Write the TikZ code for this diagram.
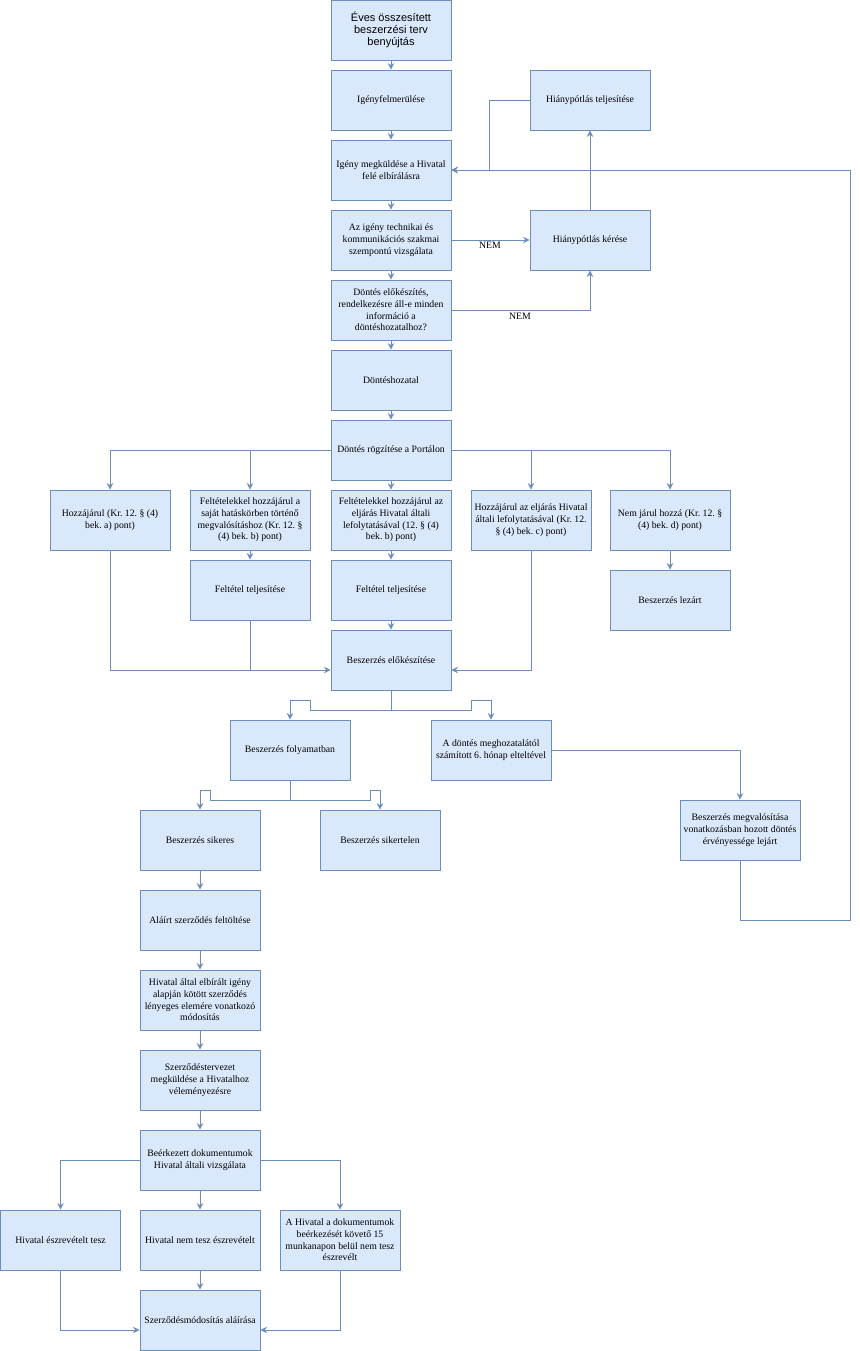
\documentclass[tikz,border=0pt]{standalone}
\usepackage{fontspec}
\setmainfont{Liberation Serif}
\newfontfamily\headfont{Liberation Sans}
\usetikzlibrary{arrows.meta}
\definecolor{boxline}{HTML}{6C8EBF}
\definecolor{boxfill}{HTML}{DAE8FC}
\frenchspacing

\begin{document}
\begin{tikzpicture}[x=1pt,y=-1pt,
  box/.style={draw=boxline,fill=boxfill,line width=.8pt,minimum width=120pt,
    minimum height=60pt,inner sep=0pt,align=center,
    font=\fontsize{9.75}{11.7}\selectfont},
  link/.style={draw=boxline,line width=.8pt,-{Stealth[length=6.5pt,width=6.5pt]}},
  joint/.style={draw=boxline,line width=.8pt},
  lbl/.style={font=\fontsize{9.75}{12}\selectfont,inner sep=0pt}]
  \useasboundingbox (0,0) rectangle (859,1351);

  \node (ev) [box,font=\headfont\fontsize{11}{11.7}\selectfont] at (391,30) {Éves összesített\\beszerzési terv\\benyújtás};
  \node (igf) [box] at (391,100) {Igényfelmerülése};
  \node (megk) [box] at (391,170) {Igény megküldése a Hivatal\\felé elbírálásra};
  \node (vizsg) [box] at (391,240) {Az igény technikai és\\kommunikációs szakmai\\szempontú vizsgálata};
  \node (elok) [box] at (391,310) {Döntés előkészítés,\\rendelkezésre áll-e minden\\információ a\\döntéshozatalhoz?};
  \node (dh) [box] at (391,380) {Döntéshozatal};
  \node (rogz) [box] at (391,450) {Döntés rögzítése a Portálon};
  \node (htel) [box] at (590,100) {Hiánypótlás teljesítése};
  \node (hkr) [box] at (590,240) {Hiánypótlás kérése};

  \node (hj) [box] at (110,520) {Hozzájárul (Kr. 12. § (4)\\bek. a) pont)};
  \node (fsaj) [box] at (250,520) {Feltételekkel hozzájárul a\\saját hatáskörben történő\\megvalósításhoz (Kr. 12. §\\(4) bek. b) pont)};
  \node (fhiv) [box] at (391,520) {Feltételekkel hozzájárul az\\eljárás Hivatal általi\\lefolytatásával (12. § (4)\\bek. b) pont)};
  \node (hhiv) [box] at (531,520) {Hozzájárul az eljárás Hivatal\\általi lefolytatásával (Kr. 12.\\§ (4) bek. c) pont)};
  \node (nem) [box] at (670,520) {Nem járul hozzá (Kr. 12. §\\(4) bek. d) pont)};
  \node (ft1) [box] at (250,590) {Feltétel teljesítése};
  \node (ft2) [box] at (391,590) {Feltétel teljesítése};
  \node (lez) [box] at (670,600) {Beszerzés lezárt};
  \node (bel) [box] at (391,660) {Beszerzés előkészítése};

  \node (fol) [box] at (290,750) {Beszerzés folyamatban};
  \node (hat) [box] at (491,750) {A döntés meghozatalától\\számított 6. hónap elteltével};
  \node (lejart) [box] at (740,830) {Beszerzés megvalósítása\\vonatkozásban hozott döntés\\érvényessége lejárt};
  \node (sik) [box] at (200,840) {Beszerzés sikeres};
  \node (sikt) [box] at (380,840) {Beszerzés sikertelen};

  \node (alair) [box] at (200,920) {Aláírt szerződés feltöltése};
  \node (mod) [box] at (200,1000) {Hivatal által elbírált igény\\alapján kötött szerződés\\lényeges elemére vonatkozó\\módosítás};
  \node (terv) [box] at (200,1080) {Szerződéstervezet\\megküldése a Hivatalhoz\\véleményezésre};
  \node (beerk) [box] at (200,1160) {Beérkezett dokumentumok\\Hivatal általi vizsgálata};
  \node (tesz) [box] at (60.5,1240) {Hivatal észrevételt tesz};
  \node (nemtesz) [box] at (200,1240) {Hivatal nem tesz észrevételt};
  \node (hatido) [box] at (340,1240) {A Hivatal a dokumentumok\\beérkezését követő 15\\munkanapon belül nem tesz\\észrevélt};
  \node (alair2) [box] at (200,1320) {Szerződésmódosítás aláírása};

  \node (nem1) [lbl] at (490,245) {NEM};
  \node (nem2) [lbl] at (520,316) {NEM};
  \coordinate (backlow) at (850,920);
  \coordinate (backtop) at (850,170);

  \draw[link] (ev) -- (igf);
  \draw[link] (igf) -- (megk);
  \draw[link] (megk) -- (vizsg);
  \draw[link] (vizsg) -- (elok);
  \draw[link] (elok) -- (dh);
  \draw[link] (dh) -- (rogz);
  \draw[link] (vizsg) -- (hkr);
  \draw[link] (elok.east) -| (hkr.south);
  \draw[link] (hkr) -- (htel);
  \draw[link] (htel.west) -- ++(-40,0) |- (megk.east);
  \draw[link] (lejart.south) |- (backlow) -- (backtop) -- (megk.east);

  \draw[link] (rogz.west) -| (hj.north);
  \draw[link] (rogz.west) -| (fsaj.north);
  \draw[link] (rogz) -- (fhiv);
  \draw[link] (rogz.east) -| (hhiv.north);
  \draw[link] (rogz.east) -| (nem.north);
  \draw[link] (fsaj) -- (ft1);
  \draw[link] (fhiv) -- (ft2);
  \draw[link] (nem) -- (lez);
  \draw[link] (hj.south) |- ([yshift=-10pt]bel.west);
  \draw[joint] (ft1.south) -- ++(0,50);
  \draw[link] (ft2) -- (bel);
  \draw[link] (hhiv.south) |- ([yshift=-10pt]bel.east);

  \draw[link] (bel.south) -- ++(0,20) -- ++(-81,0) -- ++(0,-10) -| (fol.north);
  \draw[link] (bel.south) -- ++(0,20) -- ++(80,0) -- ++(0,-10) -| (hat.north);
  \draw[link] (hat.east) -| (lejart.north);
  \draw[link] (fol.south) -- ++(0,20) -- ++(-80,0) -- ++(0,-10) -| (sik.north);
  \draw[link] (fol.south) -- ++(0,20) -- ++(80,0) -- ++(0,-10) -| (sikt.north);

  \draw[link] (sik) -- (alair);
  \draw[link] (alair) -- (mod);
  \draw[link] (mod) -- (terv);
  \draw[link] (terv) -- (beerk);
  \draw[link] (beerk.west) -| (tesz.north);
  \draw[link] (beerk) -- (nemtesz);
  \draw[link] (beerk.east) -| (hatido.north);
  \draw[link] (tesz.south) |- ([yshift=-10pt]alair2.west);
  \draw[link] (nemtesz) -- (alair2);
  \draw[link] (hatido.south) |- ([yshift=-10pt]alair2.east);
\end{tikzpicture}
\end{document}
